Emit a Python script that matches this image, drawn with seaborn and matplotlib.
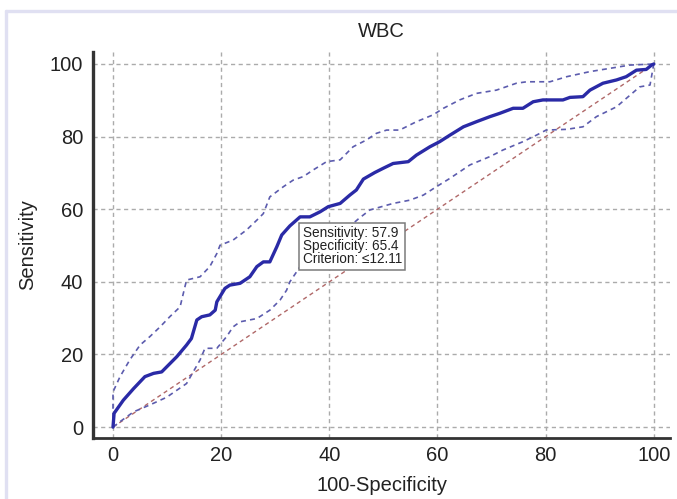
import numpy as np
import pandas as pd
import matplotlib
matplotlib.use('Agg')
import matplotlib.pyplot as plt
import seaborn as sns
from matplotlib.lines import Line2D
from matplotlib.ticker import MultipleLocator

# ROC curve (100-specificity, sensitivity)
roc_x = [0, 0.2, 1.9, 3.8, 5.9, 7.5, 9.0, 11.8, 13.6, 14.5, 15.5, 16.4, 17.9, 18.9, 19.2,
         20.7, 21.6, 23.5, 25.3, 26.6, 27.8, 29.0, 30.3, 31.2, 32.7, 34.6, 36.4, 38.3, 39.8,
         42.0, 43.8, 45.0, 46.3, 48.4, 50.0, 51.8, 54.6, 56.1, 58.6, 60.4, 62.3, 64.8, 67.2,
         69.7, 71.5, 74.0, 75.8, 77.7, 79.5, 83.2, 84.5, 86.9, 88.2, 90.6, 93.1, 94.9, 96.8,
         98.6, 99.6, 100]
roc_y = [0, 3.8, 7.4, 10.6, 13.9, 14.8, 15.2, 19.4, 22.6, 24.4, 29.5, 30.4, 30.9, 32.2, 34.5,
         38.2, 39.1, 39.6, 41.4, 44.2, 45.5, 45.5, 49.7, 52.9, 55.4, 57.9, 57.9, 59.3, 60.7,
         61.6, 63.9, 65.3, 68.3, 70.1, 71.3, 72.6, 73.1, 74.9, 77.2, 78.6, 80.4, 82.7, 84.1,
         85.5, 86.4, 87.8, 87.8, 89.6, 90.1, 90.1, 90.8, 91.0, 92.8, 94.7, 95.6, 96.5, 98.3,
         98.5, 99.7, 100]

upper_x = [0, 0, 1.3, 3.1, 5.0, 6.8, 8.7, 10.5, 12.4, 13.6, 16.1, 17.9, 19.2, 19.8, 22.2,
           24.7, 26.6, 27.8, 29.0, 31.5, 33.3, 35.2, 37.0, 39.5, 42.0, 44.4, 46.9, 48.7, 50.6,
           53.0, 56.1, 59.2, 61.1, 64.1, 67.2, 70.9, 74.6, 76.5, 80.8, 83.9, 88.2, 91.9, 95.6, 100]
upper_y = [0, 9.7, 13.9, 18.5, 22.6, 24.9, 27.6, 30.4, 33.1, 40.5, 41.4, 44.2, 47.8, 50.1, 51.5,
           54.3, 57.0, 58.8, 63.4, 66.2, 68.0, 69.0, 70.8, 73.1, 73.6, 77.2, 79.1, 80.9, 81.8,
           81.8, 84.1, 86.0, 87.8, 90.1, 91.9, 92.8, 94.7, 95.1, 95.1, 96.5, 97.9, 98.8, 99.7, 100]

lower_x = [0, 1.3, 3.8, 6.8, 9.9, 13.6, 16.1, 17.0, 19.2, 21.0, 22.2, 23.5, 26.6, 29.0, 30.9,
           32.1, 32.7, 34.6, 38.0, 42.0, 45.5, 47.5, 51.8, 54.9, 57.4, 59.8, 62.3, 66.0, 69.7,
           72.1, 75.8, 78.3, 80.1, 83.9, 86.9, 89.4, 93.1, 97.4, 99.3, 100]
lower_y = [0, 1.5, 4.2, 6.1, 8.2, 12.0, 18.5, 21.7, 21.7, 24.9, 27.6, 29.0, 29.9, 32.2, 35.0,
           37.7, 40.0, 44.2, 49.0, 53.0, 57.5, 59.8, 61.6, 62.5, 63.9, 66.2, 68.5, 72.2, 74.5,
           76.3, 78.6, 80.4, 81.8, 82.0, 82.7, 85.5, 88.2, 93.7, 94.2, 100]

diag = [0, 100]
ticks = [0, 20, 40, 60, 80, 100]

best_x, best_sens, best_spec, criterion = 34.6, 57.9, 65.4, '≤12.11'

sns.set_style('white')
plt.rcParams['font.family'] = ['Liberation Sans', 'DejaVu Sans']

fig = plt.figure(figsize=(6.77, 4.99), dpi=100)
ax = fig.add_axes([93 / 677, 1 - 438 / 499, (670 - 93) / 677, (438 - 52) / 499])

grid_style = dict(color='#ababab', linewidth=1.0, linestyle=(0, (3, 2.5)), zorder=0)
for t in ticks:
    ax.axhline(t, **grid_style)
    ax.axvline(t, **grid_style)

sns.lineplot(x=diag, y=diag, ax=ax, color='#b06868', linewidth=1.0,
             linestyle=(0, (3, 2.5)), sort=False, estimator=None)
sns.lineplot(x=upper_x, y=upper_y, ax=ax, color='#5c5cae', linewidth=1.2,
             linestyle=(0, (3, 2.5)), sort=False, estimator=None)
sns.lineplot(x=lower_x, y=lower_y, ax=ax, color='#5c5cae', linewidth=1.2,
             linestyle=(0, (3, 2.5)), sort=False, estimator=None)
sns.lineplot(x=roc_x, y=roc_y, ax=ax, color='#2a2aa6', linewidth=2.4,
             sort=False, estimator=None)

ax.text(best_x + 0.5, best_sens - 2.5,
        f'Sensitivity: {best_sens}\nSpecificity: {best_spec}\nCriterion: {criterion}',
        ha='left', va='top', fontsize=9.8, linespacing=0.92, color='#222222', zorder=5,
        bbox=dict(boxstyle='square,pad=0.25', facecolor='white', edgecolor='#7a7a7a', linewidth=1.1))

ax.set_xlim(-3.7, 103)
ax.set_ylim(-3.0, 103.3)
ax.set_xticks(ticks)
ax.set_yticks(ticks)
ax.xaxis.set_minor_locator(MultipleLocator(4))
ax.yaxis.set_minor_locator(MultipleLocator(5))
ax.tick_params(axis='x', which='major', direction='in', length=8, width=1.3,
               labelsize=14.5, pad=6, colors='#333333', labelcolor='#222222')
ax.tick_params(axis='x', which='minor', direction='in', length=4, width=1.0, colors='#333333')
ax.tick_params(axis='y', which='major', direction='in', length=14, width=1.3,
               labelsize=14.5, pad=7, colors='#333333', labelcolor='#222222')
ax.tick_params(axis='y', which='minor', direction='in', length=7, width=1.3, colors='#333333')

for side in ['top', 'right']:
    ax.spines[side].set_visible(False)
ax.spines['left'].set_linewidth(2.4)
ax.spines['bottom'].set_linewidth(2.0)
ax.spines['left'].set_color('#333333')
ax.spines['bottom'].set_color('#333333')

ax.set_title('WBC', fontsize=14.5, pad=11, color='#222222')
ax.set_xlabel('100-Specificity', fontsize=14.5, labelpad=8, color='#222222')
ax.set_ylabel('Sensitivity', fontsize=14.5, labelpad=9, color='#222222')

# light frame around the picture
fig.add_artist(Line2D([6 / 677, 1], [1 - 11 / 499, 1 - 11 / 499], color='#e0e0f2', linewidth=2.4))
fig.add_artist(Line2D([6 / 677, 6 / 677], [0, 1 - 11 / 499], color='#e0e0f2', linewidth=2.4))

fig.savefig('out.png', dpi=100)
